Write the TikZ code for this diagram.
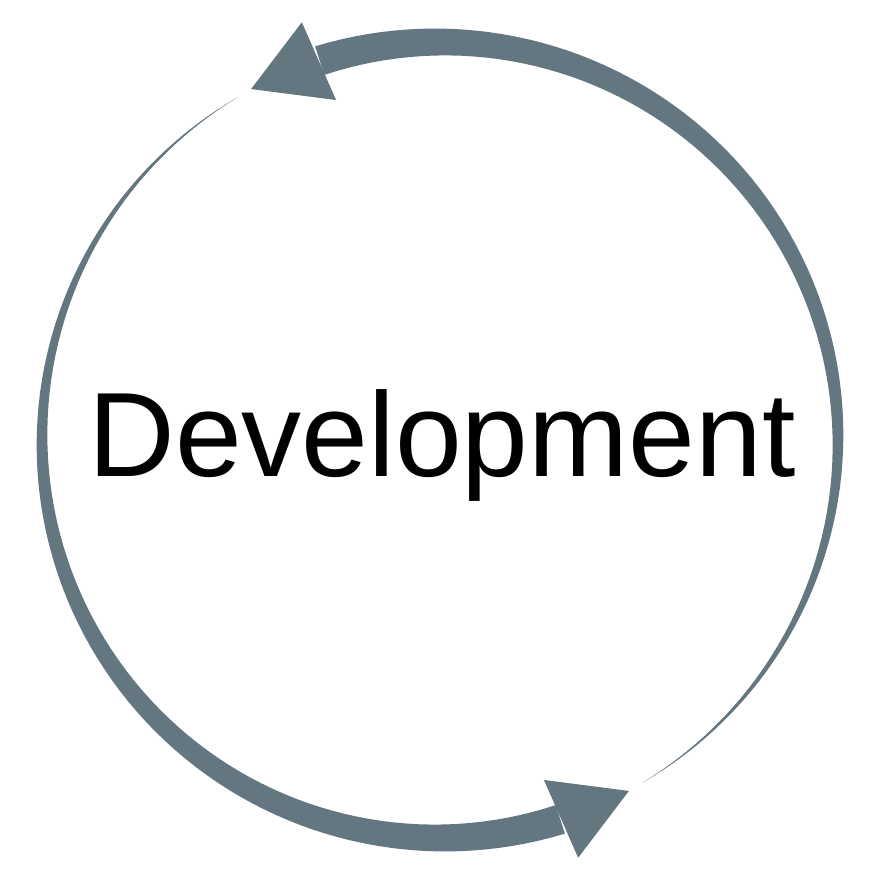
\documentclass[tikz,border=0pt]{standalone}
\usepackage{fontspec}
\setmainfont{Liberation Sans}
\usetikzlibrary{calc}
\definecolor{slate}{RGB}{100,119,129}

\begin{document}
\begin{tikzpicture}[x=1pt,y=1pt]
\useasboundingbox (-440,-438) rectangle (437,440);
\coordinate (O) at (0,0);
% upper arrow, tapering down the right side
\coordinate (TA) at (108.3:440);
\coordinate (TB) at (118.3:398.6);
\coordinate (TC) at (107:355.5);
\fill[slate] plot[domain=-59.5:107.6,samples=90] (\x:{398+15*(\x+59.5)/167})
  -- plot[domain=107.6:-59.5,samples=90] (\x:{398-15*(\x+59.5)/167}) -- cycle;
\fill[slate] (TA) -- (TB) -- (TC) -- cycle;
% lower arrow, tapering up the left side
\coordinate (BA) at (288.3:440);
\coordinate (BB) at (298.3:398.6);
\coordinate (BC) at (287:355.5);
\fill[slate] plot[domain=120.5:287.6,samples=90] (\x:{398+15*(\x-120.5)/167})
  -- plot[domain=287.6:120.5,samples=90] (\x:{398-15*(\x-120.5)/167}) -- cycle;
\fill[slate] (BA) -- (BB) -- (BC) -- cycle;
\node[font=\fontsize{120}{144}\selectfont, anchor=base, inner sep=0pt] (dev) at (2,-37) {Development};
\end{tikzpicture}
\end{document}
